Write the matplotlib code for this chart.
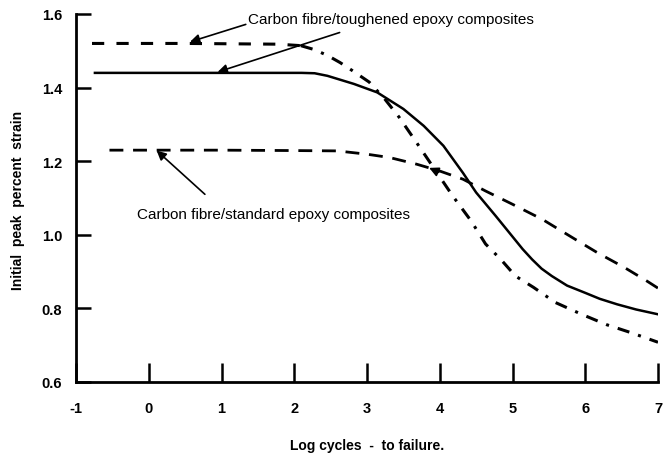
import matplotlib
matplotlib.use("Agg")
import matplotlib.pyplot as plt

plt.rcParams['font.family'] = ['Liberation Sans', 'DejaVu Sans']
plt.rcParams['axes.unicode_minus'] = False

# toughened epoxy, upper curve (dashed then dash-dot)
tough_x = [-0.78, 0.5, 1.78, 2.09, 2.28, 2.46, 2.63, 2.80, 3.03, 3.24, 3.44, 3.68, 3.93, 4.18, 4.43, 4.63, 4.84,
           5.04, 5.29, 5.59, 5.95, 6.29, 6.63, 7.0]
tough_y = [1.52, 1.52, 1.518, 1.514, 1.503, 1.487, 1.468, 1.446, 1.415, 1.37, 1.32, 1.251, 1.178, 1.105, 1.038,
           0.975, 0.933, 0.888, 0.857, 0.816, 0.784, 0.756, 0.734, 0.708]
n_flat = 4

# toughened epoxy, solid curve
solid_x = [-0.74, 1.0, 2.1, 2.28, 2.456, 2.82, 3.14, 3.50, 3.78, 4.05, 4.32, 4.50, 4.77, 5.14, 5.27, 5.40, 5.54,
           5.75, 5.99, 6.20, 6.44, 6.70, 7.0]
solid_y = [1.44, 1.44, 1.44, 1.439, 1.432, 1.41, 1.387, 1.342, 1.296, 1.242, 1.168, 1.115, 1.051, 0.961, 0.933,
           0.908, 0.888, 0.862, 0.843, 0.826, 0.811, 0.797, 0.784]

# standard epoxy, long dashes
std_x = [-0.54, 1.0, 1.91, 2.59, 3.0, 3.31, 3.68, 3.99, 4.32, 4.63, 5.0, 5.41, 5.86, 6.17, 6.54, 6.85, 7.0]
std_y = [1.23, 1.23, 1.229, 1.228, 1.219, 1.21, 1.192, 1.174, 1.151, 1.119, 1.083, 1.042, 0.988, 0.951, 0.911,
         0.874, 0.855]

x_ticks = [-1, 0, 1, 2, 3, 4, 5, 6, 7]
y_ticks = [0.6, 0.8, 1.0, 1.2, 1.4, 1.6]
y_tick_labels = ['0.6', '0.8', '1.0', '1.2', '1.4', '1.6']

label_tough = 'Carbon fibre/toughened epoxy composites'
label_std = 'Carbon fibre/standard epoxy composites'

fig = plt.figure(figsize=(6.64, 4.56), dpi=100)
ax = fig.add_axes([76 / 664, 73 / 456, 582 / 664, 368 / 456])

ax.plot(tough_x[:n_flat], tough_y[:n_flat], color='black', lw=2.2, dashes=(4, 4))
ax.plot(tough_x[n_flat - 1:], tough_y[n_flat - 1:], color='black', lw=2.2, dashes=(4, 3, 1, 3))
ax.plot(solid_x, solid_y, color='black', lw=1.8)
ax.plot(std_x, std_y, color='black', lw=2.0, dashes=(5, 3.5))

ax.set_xlim(-1, 7)
ax.set_ylim(0.6, 1.6)
ax.set_xticks(x_ticks)
ax.set_yticks(y_ticks)
ax.set_yticklabels(y_tick_labels)
for s in ['top', 'right']:
    ax.spines[s].set_visible(False)
for s in ['left', 'bottom']:
    ax.spines[s].set_linewidth(2)
ax.tick_params(axis='x', direction='in', length=14, width=1.8, pad=14, labelsize=10.5)
ax.tick_params(axis='y', direction='in', length=11, width=1.8, pad=10, labelsize=10.5)
for lab in ax.get_xticklabels() + ax.get_yticklabels():
    lab.set_fontweight('bold')

ax.set_xlabel('Log cycles  -  to failure.', fontweight='bold', fontsize=10, labelpad=16)
fig.text(18 / 664, 1 - 200 / 456, 'Initial  peak  percent  strain', rotation=90,
         ha='center', va='center', fontweight='bold', fontsize=10)

arw = dict(arrowstyle='-|>', color='black', lw=1.2, mutation_scale=14)
ax.text(1.36, 1.586, label_tough, fontsize=11, ha='left', va='center')
ax.annotate('', xy=(0.53, 1.522), xytext=(1.37, 1.574), arrowprops=arw)
ax.annotate('', xy=(0.91, 1.44), xytext=(2.66, 1.552), arrowprops=arw)
ax.text(-0.16, 1.056, label_std, fontsize=11, ha='left', va='center')
ax.annotate('', xy=(0.08, 1.234), xytext=(0.80, 1.105), arrowprops=arw)
ax.annotate('', xy=(3.82, 1.185), xytext=(4.02, 1.167), arrowprops=arw)

fig.savefig('out.png', dpi=100)
